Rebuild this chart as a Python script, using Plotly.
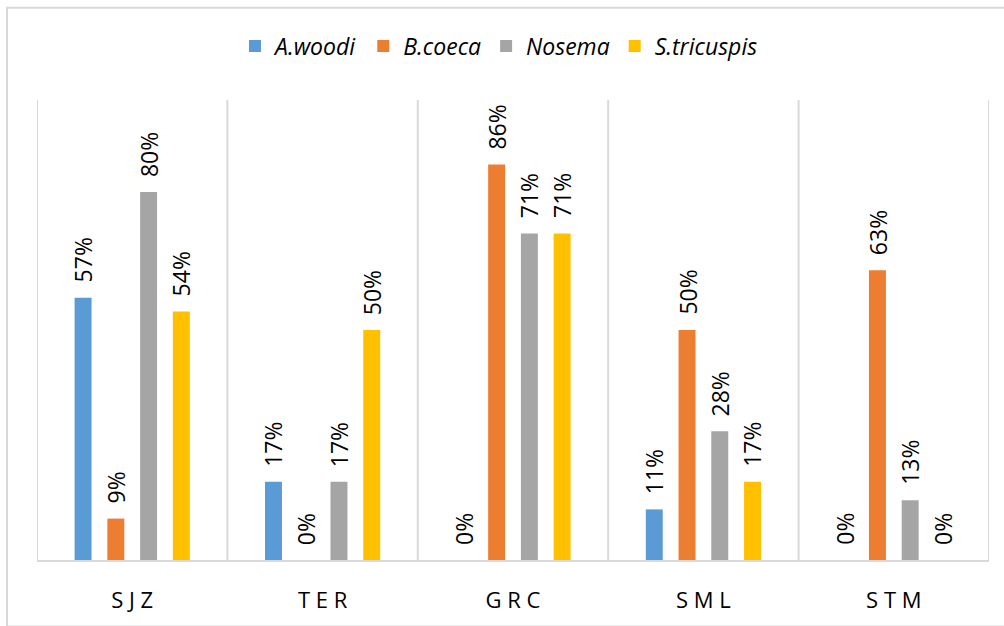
import plotly.graph_objects as go

# Sites and species prevalence (fraction of samples)
sites = ["SJZ", "TER", "GRC", "SML", "STM"]
species = ["A.woodi", "B.coeca", "Nosema", "S.tricuspis"]
a_woodi = [0.57, 0.17, 0.00, 0.11, 0.00]
b_coeca = [0.09, 0.00, 0.86, 0.50, 0.63]
nosema = [0.80, 0.17, 0.71, 0.28, 0.13]
s_tricuspis = [0.54, 0.50, 0.71, 0.17, 0.00]
series = [a_woodi, b_coeca, nosema, s_tricuspis]
colors = ["#5B9BD5", "#ED7D31", "#A5A5A5", "#FFC000"]

W, H = 1004, 626
M_L, M_R, M_T, M_B = 37, 15, 100, 62

slot = 0.172      # distance between bar centres inside a group
bar_w = 0.089     # bar width in category units
offsets = [(j - 1.5) * slot for j in range(len(species))]

FONT = "Open Sans"
GRID = "#D9D9D9"

fig = go.Figure()
annotations = []
for j, (name, vals, col) in enumerate(zip(species, series, colors)):
    xs = [i + offsets[j] for i in range(len(sites))]
    fig.add_trace(go.Bar(
        x=xs, y=vals, width=bar_w, name=f"<i>{name}</i>",
        marker=dict(color=col, line=dict(width=0)),
        hoverinfo="skip",
    ))
    for x, v in zip(xs, vals):
        annotations.append(dict(
            x=x, y=v, xref="x", yref="y",
            text=f"{round(v * 100)}%", textangle=-90,
            showarrow=False, xanchor="center", yanchor="bottom", yshift=13,
            font=dict(family=FONT, size=23, color="#000000"),
        ))

# vertical separators between site groups
shapes = [dict(type="line", xref="x", yref="paper", x0=k - 0.5, x1=k - 0.5,
               y0=0, y1=1, line=dict(color=GRID, width=2), layer="below")
          for k in range(len(sites) + 1)]

# outer chart border
pw, ph = W - M_L - M_R, H - M_T - M_B
shapes.append(dict(type="rect", xref="paper", yref="paper",
                   x0=(7 - M_L) / pw, x1=(W + 5 - M_L) / pw,
                   y0=-(M_B + 5) / ph, y1=1 + (M_T - 7) / ph,
                   line=dict(color=GRID, width=2), fillcolor="rgba(0,0,0,0)"))

fig.update_layout(
    width=W, height=H,
    margin=dict(l=M_L, r=M_R, t=M_T, b=M_B, pad=0),
    paper_bgcolor="white", plot_bgcolor="white",
    barmode="overlay",
    showlegend=True,
    legend=dict(orientation="h", xref="container", yref="container",
                x=0.497, xanchor="center", y=1 - 46 / H, yanchor="middle",
                font=dict(family=FONT, size=23, color="#000000"),
                traceorder="normal", itemclick=False),
    xaxis=dict(range=[-0.5, len(sites) - 0.5], tickmode="array",
               tickvals=list(range(len(sites))),
               ticktext=[" ".join(s) for s in sites],
               tickfont=dict(family=FONT, size=22, color="#000000"),
               showgrid=False, zeroline=False, showline=True,
               linecolor=GRID, linewidth=2, ticks="", ticklabelstandoff=20),
    yaxis=dict(range=[0, 1], visible=False, showgrid=False, zeroline=False),
    annotations=annotations,
    shapes=shapes,
)

fig.write_html("out.html")
